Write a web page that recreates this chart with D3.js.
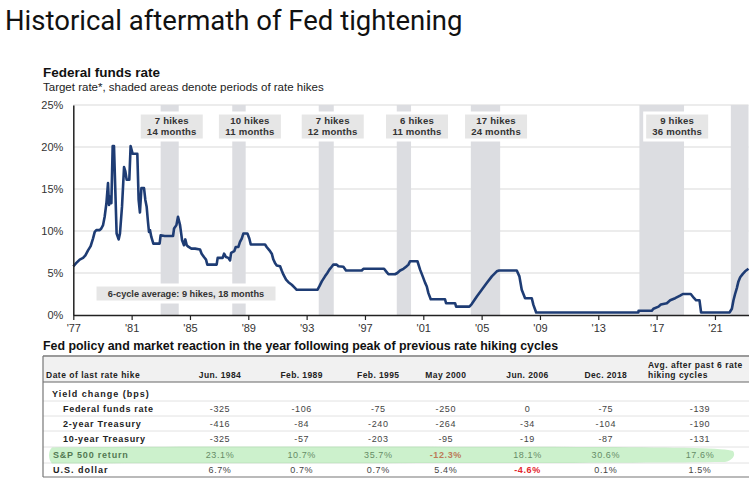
<!DOCTYPE html>
<html><head><meta charset="utf-8">
<script src="https://cdn.jsdelivr.net/npm/d3@7"></script>
<style>body{margin:0;background:#fff}svg{display:block}</style>
</head><body>
<svg id="c" width="750" height="479"></svg>
<script>
// ---------------- DATA ----------------
const rateYears = [1977.00,1977.21,1977.44,1977.67,1977.83,1978.01,1978.19,1978.35,1978.47,1978.58,1978.81,1978.92,1979.04,1979.15,1979.27,1979.38,1979.45,1979.54,1979.61,1979.70,1979.79,1979.88,1979.97,1980.11,1980.20,1980.34,1980.48,1980.57,1980.66,1980.84,1980.93,1981.07,1981.39,1981.48,1981.57,1981.67,1981.85,1981.94,1982.03,1982.12,1982.19,1982.26,1982.35,1982.49,1982.92,1982.99,1983.27,1983.84,1983.91,1984.07,1984.18,1984.32,1984.46,1984.59,1984.68,1984.78,1984.91,1985.10,1985.35,1985.69,1985.80,1985.96,1986.10,1986.19,1986.83,1986.90,1987.24,1987.34,1987.47,1987.63,1987.75,1987.82,1988.04,1988.14,1988.32,1988.43,1988.55,1988.66,1988.94,1989.07,1989.17,1990.15,1990.26,1990.45,1990.61,1990.72,1990.83,1990.95,1991.18,1991.29,1991.41,1991.59,1991.75,1991.98,1992.21,1992.32,1993.74,1993.87,1994.04,1994.15,1994.26,1994.42,1994.56,1994.72,1994.83,1995.06,1995.18,1995.52,1995.70,1996.78,1996.89,1998.31,1998.45,1998.61,1999.06,1999.22,1999.41,1999.64,1999.82,1999.98,2000.09,2000.60,2000.78,2000.96,2001.12,2001.24,2001.35,2001.51,2002.49,2002.56,2003.18,2003.25,2004.16,2004.32,2004.67,2005.01,2005.35,2005.70,2006.04,2006.20,2007.41,2007.59,2007.75,2007.98,2008.44,2008.55,2008.74,2015.75,2015.76,2016.67,2016.78,2017.13,2017.29,2017.70,2017.93,2018.27,2018.61,2018.80,2019.34,2019.57,2019.71,2019.94,2020.05,2022.00,2022.16,2022.27,2022.38,2022.50,2022.61,2022.73,2022.91,2023.07,2023.30];
const rateValues = [5.8,6.2,6.6,6.8,7.1,7.7,8.2,9.1,9.9,10.1,10.1,10.3,10.7,11.7,13.3,15.7,13.1,14.1,13.3,20.1,20.1,14.9,9.7,9.0,9.7,12.9,17.6,17.1,16.1,16.1,20.1,19.2,19.2,13.7,12.2,15.1,15.1,13.7,12.9,11.1,9.9,10.1,9.3,8.5,8.5,9.5,9.4,9.4,10.3,10.7,11.7,10.7,8.9,8.3,9.0,8.3,8.1,7.9,7.9,7.8,7.3,6.9,6.6,6.0,6.0,6.8,6.8,7.3,6.9,6.8,6.5,7.4,7.6,8.1,8.1,8.7,9.1,9.7,9.7,9.1,8.4,8.4,8.1,7.7,7.3,6.6,6.2,5.9,5.8,5.3,4.8,4.2,3.9,3.6,3.2,3.0,3.0,3.4,4.0,4.3,4.6,5.0,5.4,5.75,6.0,6.0,5.8,5.75,5.3,5.3,5.5,5.5,5.2,4.85,4.85,5.0,5.3,5.5,5.75,6.0,6.4,6.4,5.4,4.6,3.85,3.4,2.6,1.87,1.87,1.4,1.4,1.0,1.0,1.3,2.2,3.0,3.8,4.6,5.2,5.3,5.3,4.6,3.0,2.0,2.0,1.2,0.3,0.3,0.5,0.5,0.75,1.0,1.25,1.4,1.75,2.0,2.3,2.5,2.5,2.0,1.75,1.75,0.3,0.3,0.75,1.75,2.5,3.2,4.0,4.5,4.9,5.2,5.5];

const hikeStart = [1982.99, 1987.90, 1993.83, 1999.18, 2004.26, 2015.82, 2022.09];
const hikeEnd   = [1984.23, 1988.82, 1994.86, 2000.16, 2006.27, 2018.88, 2023.30];
const hikeCounts = [7, 10, 7, 6, 17, 9];
const hikeMonths = [14, 11, 12, 11, 24, 36];
const hikeLabelYear = [1983.75, 1989.11, 1994.79, 2000.57, 2005.99, 2018.41];
const averageNote = "6-cycle average: 9 hikes, 18 months";

const yTickValues = [0, 5, 10, 15, 20, 25];
const xTickYears = [1977, 1981, 1985, 1989, 1993, 1997, 2001, 2005, 2009, 2013, 2017, 2021];

const tableColumns = ["Jun. 1984", "Feb. 1989", "Feb. 1995", "May 2000", "Jun. 2006", "Dec. 2018"];
const avgColumnHeader = ["Avg. after past 6 rate", "hiking cycles"];
const fedFundsChange = [-325, -106, -75, -250, 0, -75, -139];
const twoYearChange  = [-416, -84, -240, -264, -34, -104, -190];
const tenYearChange  = [-325, -57, -203, -95, -19, -87, -131];
const sp500Return    = [23.1, 10.7, 35.7, -12.3, 18.1, 30.6, 17.6];
const usDollar       = [6.7, 0.7, 0.7, 5.4, -4.6, 0.1, 1.5];

// ---------------- LAYOUT ----------------
const svg = d3.select("#c");
const FONT = "'Liberation Sans', Arial, sans-serif";
const NARROW = "'Liberation Sans Narrow', 'Liberation Sans', Arial, sans-serif";
const LINE = "#1e3c74";

const x = d3.scaleLinear().domain([1977, 2023.3]).range([73.3, 748.5]);
const y = d3.scaleLinear().domain([0, 25]).range([315, 105]);

// titles
svg.append("text").attr("x", 5).attr("y", 30)
  .style("font-family", "Roboto, Arial, sans-serif").style("font-size", "27.5px")
  .style("fill", "#111").text("Historical aftermath of Fed tightening");
svg.append("text").attr("x", 43).attr("y", 77)
  .style("font-family", NARROW).style("font-weight", "bold").style("font-size", "13.5px")
  .style("fill", "#111").text("Federal funds rate");
svg.append("text").attr("x", 43).attr("y", 90.5)
  .style("font-family", NARROW).style("font-size", "11.5px")
  .style("fill", "#222").text("Target rate*, shaded areas denote periods of rate hikes");

// gridlines
svg.append("g").selectAll("line").data(yTickValues.filter(d => d > 0)).join("line")
  .attr("x1", x(1977)).attr("x2", x.range()[1])
  .attr("y1", d => y(d)).attr("y2", d => y(d))
  .attr("stroke", "#d9d9d9").attr("stroke-width", 1);

// shaded hike periods
svg.append("g").selectAll("rect").data(d3.zip(hikeStart, hikeEnd)).join("rect")
  .attr("x", d => x(d[0])).attr("width", d => x(d[1]) - x(d[0]))
  .attr("y", y(25)).attr("height", y(0) - y(25))
  .attr("fill", "#dcdde1");

// hike label boxes
const boxW = 65, boxTop = 113, boxH = 27;
const lbl = svg.append("g").selectAll("g").data(d3.range(hikeCounts.length)).join("g");
lbl.append("rect")
  .attr("x", i => x(hikeLabelYear[i]) - boxW / 2).attr("y", boxTop)
  .attr("width", boxW).attr("height", boxH)
  .attr("fill", "#e6e6e6").attr("stroke", "#fff").attr("stroke-width", 3);
lbl.append("text").attr("x", i => x(hikeLabelYear[i])).attr("y", boxTop + 11)
  .attr("text-anchor", "middle")
  .style("font-family", FONT).style("font-weight", "bold").style("font-size", "9.6px")
  .style("letter-spacing", "0.2px").style("fill", "#333")
  .text(i => hikeCounts[i] + " hikes");
lbl.append("text").attr("x", i => x(hikeLabelYear[i])).attr("y", boxTop + 22)
  .attr("text-anchor", "middle")
  .style("font-family", FONT).style("font-weight", "bold").style("font-size", "9.6px")
  .style("letter-spacing", "0.2px").style("fill", "#333")
  .text(i => hikeMonths[i] + " months");

// average note box
svg.append("rect").attr("x", 95).attr("y", 285).attr("width", 182).attr("height", 17)
  .attr("fill", "#e6e6e6").attr("stroke", "#fff").attr("stroke-width", 3);
svg.append("text").attr("x", 186).attr("y", 297).attr("text-anchor", "middle")
  .style("font-family", FONT).style("font-weight", "bold").style("font-size", "9.2px")
  .style("fill", "#333").text(averageNote);

// rate line
const line = d3.line().x(d => x(d[0])).y(d => y(d[1]));
svg.append("path").datum(d3.zip(rateYears, rateValues))
  .attr("d", line).attr("fill", "none").attr("stroke", LINE)
  .attr("stroke-width", 2.6).attr("stroke-linejoin", "round");

// axes
const yAxis = svg.append("g").attr("transform", `translate(${x(1977)},0)`)
  .call(d3.axisLeft(y).tickValues(yTickValues).tickFormat(d => d + "%").tickSize(0).tickPadding(10));
yAxis.select(".domain").attr("stroke", "#222").attr("stroke-width", 1.5);
yAxis.selectAll("text").style("font-family", FONT).style("font-size", "11px").style("fill", "#333");

const xAxis = svg.append("g").attr("transform", `translate(0,${y(0)})`)
  .call(d3.axisBottom(x).tickValues(xTickYears)
    .tickFormat(d => "'" + String(d % 100).padStart(2, "0")).tickSizeInner(5).tickSizeOuter(0).tickPadding(4));
xAxis.select(".domain").attr("stroke", "#222").attr("stroke-width", 1.5);
xAxis.selectAll(".tick line").attr("stroke", "#222").attr("stroke-width", 1.2);
xAxis.selectAll("text").style("font-family", FONT).style("font-size", "11px").style("fill", "#333");

// ---------------- TABLE ----------------
svg.append("text").attr("x", 43).attr("y", 350)
  .style("font-family", FONT).style("font-weight", "bold").style("font-size", "12.4px")
  .style("fill", "#111").text("Fed policy and market reaction in the year following peak of previous rate hiking cycles");

const tL = 43, tR = 749;
svg.append("rect").attr("x", tL).attr("y", 356).attr("width", tR - tL).attr("height", 26).attr("fill", "#f1f1f1");
svg.append("line").attr("x1", tL).attr("x2", tR).attr("y1", 356).attr("y2", 356).attr("stroke", "#9a9a9a").attr("stroke-width", 2);
svg.append("line").attr("x1", tL).attr("x2", tR).attr("y1", 382).attr("y2", 382).attr("stroke", "#666").attr("stroke-width", 1);
[401, 416, 431, 447, 463].forEach(v =>
  svg.append("line").attr("x1", tL).attr("x2", tR).attr("y1", v).attr("y2", v).attr("stroke", "#e2e2e2").attr("stroke-width", 1));
svg.append("line").attr("x1", tL).attr("x2", tR).attr("y1", 477).attr("y2", 477).attr("stroke", "#777").attr("stroke-width", 1.2);
svg.append("line").attr("x1", tL).attr("x2", tL).attr("y1", 356).attr("y2", 477).attr("stroke", "#777").attr("stroke-width", 1.2);

const colX = [220, 301.7, 378.3, 445.8, 527.5, 605.8, 700];
const hdr = svg.append("g").style("font-family", FONT).style("font-weight", "bold")
  .style("font-size", "8.5px").style("fill", "#222");
hdr.append("text").attr("x", 46).attr("y", 378).style("letter-spacing", "0.5px").text("Date of last rate hike");
hdr.selectAll("text.col").data(tableColumns).join("text").attr("class", "col")
  .attr("x", (d, i) => colX[i]).attr("y", 378).attr("text-anchor", "middle")
  .style("letter-spacing", "0.4px").text(d => d);
hdr.selectAll("text.avg").data(avgColumnHeader).join("text").attr("class", "avg")
  .attr("x", 648).attr("y", (d, i) => 368 + i * 10).style("letter-spacing", "0.5px").text(d => d);

const bps = d => d === 0 ? "0" : (d < 0 ? "-" : "") + Math.abs(d);
const pct = d => d.toFixed(1) + "%";
const rows = [
  {label: "Yield change (bps)", indent: 52, yb: 396.5, vals: null, ls: 1.0},
  {label: "Federal funds rate", indent: 63, yb: 411.5, vals: fedFundsChange, fmt: bps, ls: 0.7},
  {label: "2-year Treasury", indent: 63, yb: 426.5, vals: twoYearChange, fmt: bps, ls: 0.8},
  {label: "10-year Treasury", indent: 63, yb: 442, vals: tenYearChange, fmt: bps, ls: 0.7},
  {label: "S&P 500 return", indent: 53, yb: 458, vals: sp500Return, fmt: pct, ls: 0.8},
  {label: "U.S. dollar", indent: 53, yb: 473, vals: usDollar, fmt: pct, ls: 1.0}
];
rows.forEach(r => {
  svg.append("text").attr("x", r.indent).attr("y", r.yb)
    .style("font-family", FONT).style("font-weight", "bold").style("font-size", "9px")
    .style("letter-spacing", r.ls + "px").style("fill", "#222").text(r.label);
  if (!r.vals) return;
  svg.append("g").selectAll("text").data(r.vals).join("text")
    .attr("x", (d, i) => colX[i]).attr("y", r.yb).attr("text-anchor", "middle")
    .style("font-family", FONT).style("font-size", "9px").style("letter-spacing", "0.6px")
    .style("font-weight", d => (r.fmt === pct && d < 0) ? "bold" : "normal")
    .style("fill", d => (r.fmt === pct && d < 0) ? "#e3262b" : "#444")
    .text(d => r.fmt(d));
});

// green highlighter over the S&P 500 row
svg.append("path")
  .attr("d", "M52,447.5 C150,446 400,446.5 600,447 C680,447.5 725,448 733,451 C736,455 733,460 725,462 C600,463.5 300,463 52,463.5 C48,459 48,451 52,447.5 Z")
  .attr("fill", "#8fe08f").attr("opacity", 0.45);
</script>
</body></html>
